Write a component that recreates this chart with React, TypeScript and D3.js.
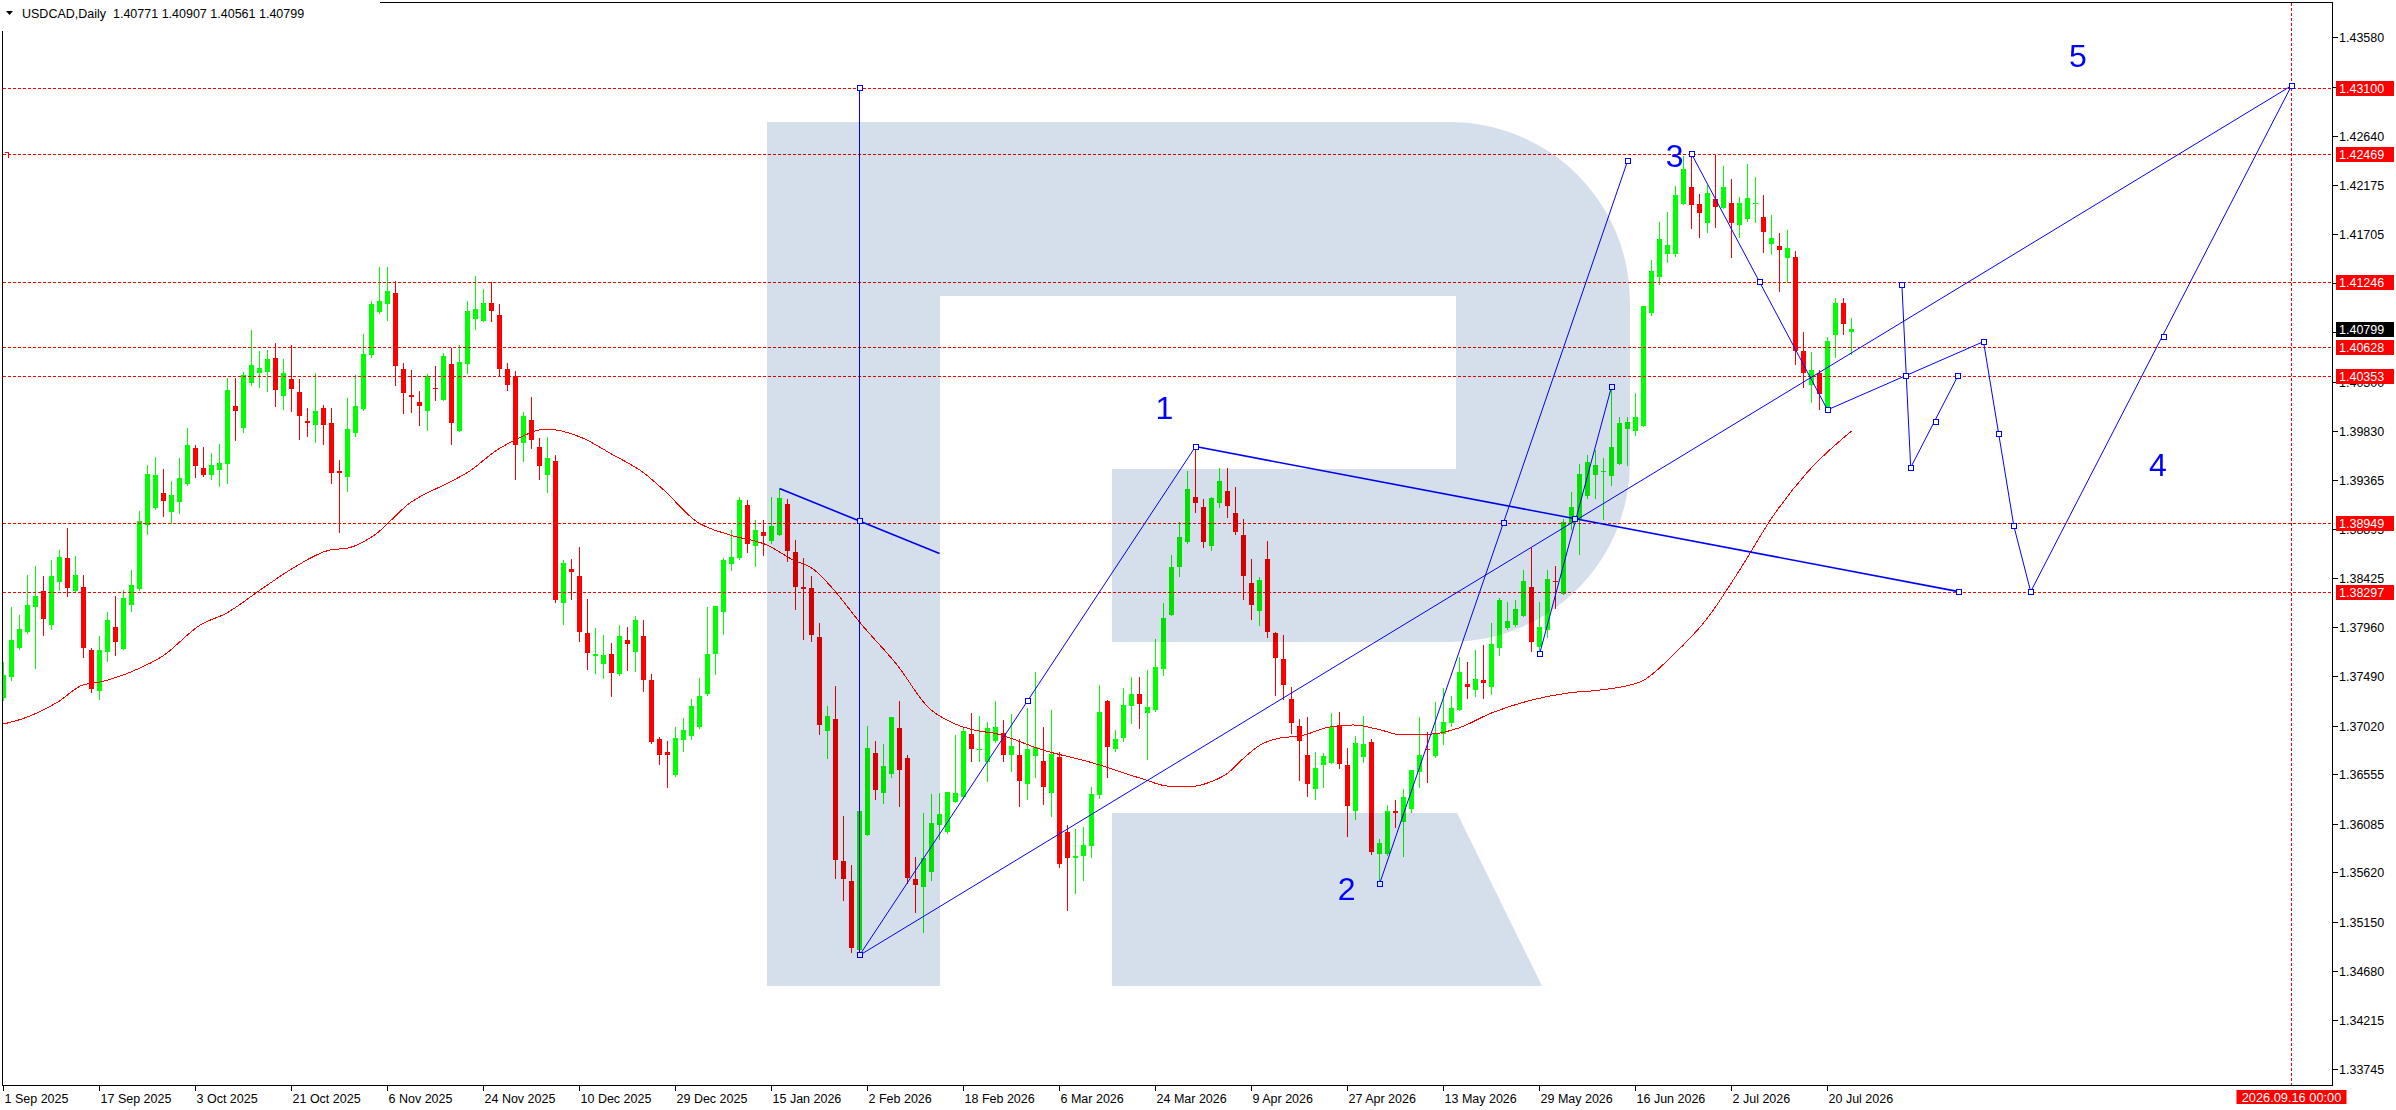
import { useEffect, useRef } from 'react';
import * as d3 from 'd3';

const WIDTH = 2396;
const HEIGHT = 1110;

const title = 'USDCAD,Daily  1.40771 1.40907 1.40561 1.40799';

// daily candles from 1 Sep 2025, one entry per bar
const opens = [
  1.3728, 1.3748, 1.3776, 1.3791, 1.3815, 1.3830, 1.3798, 1.3839, 1.3862, 1.3830,
  1.3834, 1.3774, 1.3735, 1.3772, 1.3796, 1.3775, 1.3817, 1.3832, 1.3893, 1.3909,
  1.3924, 1.3906, 1.3915, 1.3932, 1.3967, 1.3948, 1.3941, 1.3946, 1.3951, 1.4007,
  1.3986, 1.4029, 1.4038, 1.4039, 1.4052, 1.4016, 1.4032, 1.4020, 1.3992, 1.3989,
  1.4005, 1.3990, 1.3945, 1.3939, 1.3981, 1.4004, 1.4055, 1.4096, 1.4104, 1.4114,
  1.4042, 1.4017, 1.4010, 1.4002, 1.4024, 1.4012, 1.4047, 1.3983, 1.4047, 1.4090,
  1.4088, 1.4105, 1.4093, 1.4042, 1.4035, 1.3971, 1.3993, 1.3968, 1.3941, 1.3954,
  1.3819, 1.3851, 1.3845, 1.3790, 1.3768, 1.3761, 1.3770, 1.3751, 1.3784, 1.3772,
  1.3787, 1.3745, 1.3689, 1.3677, 1.3655, 1.3688, 1.3692, 1.3701, 1.3732, 1.3770,
  1.3810, 1.3856, 1.3862, 1.3912, 1.3873, 1.3887, 1.3878, 1.3884, 1.3913, 1.3867,
  1.3834, 1.3833, 1.3786, 1.3697, 1.3708, 1.3573, 1.3554, 1.3488, 1.3598, 1.3676,
  1.3638, 1.3656, 1.3700, 1.3671, 1.3556, 1.3548, 1.3562, 1.3607, 1.3601, 1.3629,
  1.3634, 1.3694, 1.3679, 1.3667, 1.3687, 1.3695, 1.3674, 1.3674, 1.3646, 1.3673,
  1.3668, 1.3638, 1.3672, 1.3601, 1.3576, 1.3578, 1.3587, 1.3636, 1.3725, 1.3680,
  1.3690, 1.3721, 1.3732, 1.3714, 1.3717, 1.3756, 1.3807, 1.3853, 1.3877, 1.3920,
  1.3910, 1.3873, 1.3914, 1.3926, 1.3905, 1.3884, 1.3838, 1.3811, 1.3861, 1.3790,
  1.3765, 1.3727, 1.3702, 1.3674, 1.3642, 1.3664, 1.3666, 1.3703, 1.3664, 1.3621,
  1.3672, 1.3686, 1.3580, 1.3580, 1.3621, 1.3610, 1.3622, 1.3658, 1.3680, 1.3673,
  1.3694, 1.3704, 1.3717, 1.3742, 1.3736, 1.3745, 1.3739, 1.3776, 1.3795, 1.3798,
  1.3806, 1.3834, 1.3777, 1.3793, 1.3840, 1.3827, 1.3895, 1.3899, 1.3921, 1.3941,
  1.3944, 1.3940, 1.3951, 1.3985, 1.3983, 1.3988, 1.4095, 1.4130, 1.4152, 1.4152,
  1.4199, 1.4215, 1.4199, 1.4181, 1.4204, 1.4195, 1.4200, 1.4179, 1.4185, 1.4199,
  1.4187, 1.4161, 1.4159, 1.4148, 1.4149, 1.4059, 1.4027, 1.4038, 1.4004, 1.4074,
  1.4105, 1.40771,
];
const highs = [
  1.3763, 1.3815, 1.3807, 1.3846, 1.3854, 1.3845, 1.3860, 1.3869, 1.3890, 1.3864,
  1.3846, 1.3776, 1.3787, 1.3810, 1.3826, 1.3831, 1.3850, 1.3907, 1.3950, 1.3958,
  1.3947, 1.3935, 1.3957, 1.3986, 1.3969, 1.3968, 1.3962, 1.3970, 1.4033, 1.4033,
  1.4039, 1.4079, 1.4059, 1.4060, 1.4067, 1.4051, 1.4065, 1.4032, 1.4005, 1.4038,
  1.4008, 1.4005, 1.3955, 1.4014, 1.4036, 1.4075, 1.4107, 1.4139, 1.4139, 1.4126,
  1.4048, 1.4041, 1.4021, 1.4037, 1.4045, 1.4057, 1.4062, 1.4065, 1.4107, 1.4131,
  1.4118, 1.4125, 1.4104, 1.4048, 1.4040, 1.4001, 1.4015, 1.3976, 1.3977, 1.3960,
  1.3860, 1.3861, 1.3872, 1.3823, 1.3795, 1.3788, 1.3781, 1.3798, 1.3796, 1.3806,
  1.3803, 1.3751, 1.3691, 1.3687, 1.3701, 1.3709, 1.3727, 1.3747, 1.3815, 1.3816,
  1.3862, 1.3888, 1.3920, 1.3917, 1.3898, 1.3898, 1.3920, 1.3928, 1.3918, 1.3879,
  1.3862, 1.3845, 1.3800, 1.3721, 1.3740, 1.3616, 1.3569, 1.3621, 1.3702, 1.3687,
  1.3684, 1.3710, 1.3725, 1.3674, 1.3577, 1.3619, 1.3637, 1.3638, 1.3639, 1.3693,
  1.3701, 1.3714, 1.3711, 1.3705, 1.3725, 1.3707, 1.3713, 1.3689, 1.3719, 1.3753,
  1.3701, 1.3717, 1.3677, 1.3607, 1.3603, 1.3605, 1.3643, 1.3741, 1.3726, 1.3698,
  1.3738, 1.3748, 1.3748, 1.3755, 1.3785, 1.3819, 1.3865, 1.3896, 1.3945, 1.3968,
  1.3918, 1.3920, 1.3948, 1.3948, 1.3929, 1.3899, 1.3861, 1.3844, 1.3878, 1.3791,
  1.3788, 1.3739, 1.3708, 1.3710, 1.3677, 1.3676, 1.3714, 1.3715, 1.3681, 1.3692,
  1.3711, 1.3689, 1.3594, 1.3626, 1.3631, 1.3642, 1.3660, 1.3710, 1.3696, 1.3724,
  1.3738, 1.3730, 1.3767, 1.3763, 1.3774, 1.3779, 1.3800, 1.3824, 1.3820, 1.3822,
  1.3850, 1.3871, 1.3820, 1.3850, 1.3854, 1.3899, 1.3925, 1.3951, 1.3960, 1.3965,
  1.3957, 1.4025, 1.3996, 1.3996, 1.4019, 1.4102, 1.4146, 1.4182, 1.4192, 1.4216,
  1.4245, 1.4247, 1.4209, 1.4217, 1.4247, 1.4235, 1.4223, 1.4206, 1.4237, 1.4225,
  1.4208, 1.4189, 1.4172, 1.4174, 1.4154, 1.4077, 1.4058, 1.4041, 1.4072, 1.4110,
  1.4110, 1.40907,
];
const lows = [
  1.3726, 1.3745, 1.3775, 1.3790, 1.3757, 1.3788, 1.3794, 1.3831, 1.3826, 1.3829,
  1.3767, 1.3734, 1.3727, 1.3764, 1.3769, 1.3775, 1.3811, 1.3831, 1.3885, 1.3908,
  1.3902, 1.3895, 1.3905, 1.3931, 1.3939, 1.3940, 1.3937, 1.3930, 1.3933, 1.3974,
  1.3982, 1.4027, 1.4025, 1.4021, 1.4007, 1.4004, 1.4002, 1.3975, 1.3978, 1.3972,
  1.3970, 1.3933, 1.3887, 1.3926, 1.3978, 1.4003, 1.4053, 1.4095, 1.4089, 1.4027,
  1.4000, 1.4001, 1.3989, 1.3984, 1.4012, 1.4012, 1.3970, 1.3983, 1.4038, 1.4080,
  1.4088, 1.4088, 1.4035, 1.4022, 1.3937, 1.3954, 1.3967, 1.3937, 1.3925, 1.3820,
  1.3799, 1.3823, 1.3783, 1.3756, 1.3752, 1.3747, 1.3730, 1.3750, 1.3755, 1.3754,
  1.3735, 1.3685, 1.3665, 1.3643, 1.3654, 1.3678, 1.3689, 1.3700, 1.3731, 1.3751,
  1.3789, 1.3850, 1.3861, 1.3867, 1.3854, 1.3865, 1.3876, 1.3884, 1.3859, 1.3813,
  1.3785, 1.3783, 1.3694, 1.3671, 1.3557, 1.3536, 1.3486, 1.3483, 1.3598, 1.3632,
  1.3628, 1.3653, 1.3625, 1.3552, 1.3524, 1.3505, 1.3555, 1.3594, 1.3600, 1.3629,
  1.3633, 1.3668, 1.3668, 1.3649, 1.3686, 1.3668, 1.3659, 1.3625, 1.3632, 1.3653,
  1.3627, 1.3616, 1.3567, 1.3526, 1.3542, 1.3555, 1.3577, 1.3633, 1.3653, 1.3678,
  1.3687, 1.3704, 1.3700, 1.3670, 1.3716, 1.3750, 1.3807, 1.3845, 1.3876, 1.3906,
  1.3872, 1.3869, 1.3910, 1.3901, 1.3885, 1.3823, 1.3804, 1.3798, 1.3786, 1.3731,
  1.3727, 1.3695, 1.3650, 1.3635, 1.3632, 1.3643, 1.3666, 1.3662, 1.3597, 1.3613,
  1.3667, 1.3580, 1.3551, 1.3579, 1.3605, 1.3578, 1.3620, 1.3643, 1.3648, 1.3672,
  1.3684, 1.3702, 1.3717, 1.3728, 1.3730, 1.3728, 1.3732, 1.3769, 1.3794, 1.3797,
  1.3806, 1.3773, 1.3770, 1.3786, 1.3814, 1.3827, 1.3889, 1.3866, 1.3919, 1.3919,
  1.3899, 1.3931, 1.3951, 1.3950, 1.3979, 1.3988, 1.4093, 1.4123, 1.4144, 1.4150,
  1.4199, 1.4176, 1.4168, 1.4173, 1.4177, 1.4195, 1.4149, 1.4168, 1.4183, 1.4182,
  1.4153, 1.4152, 1.4116, 1.4125, 1.4047, 1.4025, 1.4010, 1.4004, 1.4003, 1.4053,
  1.4075, 1.40561,
];
const closes = [
  1.3750, 1.3784, 1.3794, 1.3817, 1.3826, 1.3804, 1.3845, 1.3863, 1.3833, 1.3846,
  1.3776, 1.3737, 1.3774, 1.3803, 1.3782, 1.3824, 1.3836, 1.3897, 1.3942, 1.3941,
  1.3916, 1.3922, 1.3938, 1.3969, 1.3949, 1.3941, 1.3950, 1.3952, 1.4022, 1.4002,
  1.4036, 1.4046, 1.4043, 1.4051, 1.4022, 1.4038, 1.4023, 1.3997, 1.3990, 1.4002,
  1.3989, 1.3943, 1.3943, 1.3985, 1.4007, 1.4056, 1.4104, 1.4107, 1.4116, 1.4045,
  1.4019, 1.4015, 1.4007, 1.4035, 1.4023, 1.4054, 1.3990, 1.4049, 1.4097, 1.4099,
  1.4105, 1.4097, 1.4042, 1.4027, 1.3969, 1.3997, 1.3974, 1.3949, 1.3957, 1.3822,
  1.3857, 1.3848, 1.3791, 1.3771, 1.3770, 1.3769, 1.3752, 1.3787, 1.3780, 1.3803,
  1.3745, 1.3686, 1.3674, 1.3674, 1.3690, 1.3698, 1.3721, 1.3730, 1.3770, 1.3816,
  1.3860, 1.3863, 1.3917, 1.3875, 1.3888, 1.3883, 1.3892, 1.3919, 1.3868, 1.3834,
  1.3832, 1.3788, 1.3703, 1.3711, 1.3574, 1.3556, 1.3490, 1.3621, 1.3681, 1.3641,
  1.3663, 1.3710, 1.3660, 1.3557, 1.3550, 1.3576, 1.3609, 1.3618, 1.3639, 1.3638,
  1.3697, 1.3680, 1.3680, 1.3700, 1.3701, 1.3674, 1.3683, 1.3649, 1.3680, 1.3682,
  1.3643, 1.3675, 1.3570, 1.3576, 1.3578, 1.3588, 1.3637, 1.3715, 1.3682, 1.3689,
  1.3722, 1.3732, 1.3723, 1.3720, 1.3758, 1.3805, 1.3853, 1.3882, 1.3928, 1.3914,
  1.3877, 1.3919, 1.3935, 1.3911, 1.3887, 1.3845, 1.3817, 1.3841, 1.3791, 1.3766,
  1.3741, 1.3704, 1.3687, 1.3646, 1.3662, 1.3673, 1.3701, 1.3665, 1.3625, 1.3685,
  1.3684, 1.3581, 1.3590, 1.3621, 1.3619, 1.3634, 1.3660, 1.3674, 1.3679, 1.3695,
  1.3705, 1.3719, 1.3753, 1.3739, 1.3746, 1.3743, 1.3780, 1.3822, 1.3802, 1.3813,
  1.3840, 1.3782, 1.3796, 1.3842, 1.3839, 1.3896, 1.3910, 1.3942, 1.3953, 1.3950,
  1.3945, 1.3968, 1.3990, 1.3991, 1.3996, 1.4102, 1.4135, 1.4166, 1.4160, 1.4208,
  1.4233, 1.4198, 1.4191, 1.4210, 1.4196, 1.4215, 1.4181, 1.4200, 1.4205, 1.4200,
  1.4173, 1.4167, 1.4155, 1.4157, 1.4059, 1.4038, 1.4041, 1.4018, 1.4069, 1.4105,
  1.4085, 1.40799,
];

// moving average at these bars
const maBars = [
  0, 2.3, 6.8, 9.9, 12.1, 16.2, 19.9, 24.6, 27.9, 32.1, 36.2, 40.8, 43.1, 46.2,
  50.8, 55.8, 57.9, 61.9, 63.7, 67.9, 72.1, 76.2, 79.9, 82.4, 86.7, 90.8, 95.4,
  98.7, 101.2, 103.7, 107.1, 111.7, 115.8, 117.9, 121.9, 123.7, 129.9, 136.2,
  142.4, 145.4, 147.9, 151.2, 152.9, 154.9, 157.1, 159.6, 162.1, 165.8, 168.7,
  171.7, 174.9, 178.7, 181.9, 186, 191.6, 195.6, 199.6, 204.6, 208.7, 212.9,
  217.1, 221.2, 225.4, 231,
];
const maValues = [
  1.37035, 1.37083, 1.37245, 1.37407, 1.37436, 1.37540, 1.37683, 1.37979, 1.38093,
  1.38313, 1.38522, 1.38694, 1.38713, 1.38827, 1.39142, 1.39342, 1.39428, 1.39657,
  1.39733, 1.39847, 1.39771, 1.39600, 1.39437, 1.39275, 1.38961, 1.38837, 1.38742,
  1.38599, 1.38513, 1.38322, 1.37998, 1.37598, 1.37178, 1.37073, 1.36968, 1.36949,
  1.36787, 1.36663, 1.36511, 1.36444, 1.36435, 1.36492, 1.36559, 1.36701, 1.36835,
  1.36902, 1.36921, 1.37007, 1.37026, 1.36987, 1.36930, 1.36940, 1.36997, 1.37140,
  1.37274, 1.37331, 1.37359, 1.37436, 1.37693, 1.38036, 1.38513, 1.39018, 1.39428,
  1.39828,
];

const priceTicks = [
  1.43580, 1.43110, 1.42640, 1.42175, 1.41705, 1.41240, 1.40770, 1.40300, 1.39830,
  1.39365, 1.38895, 1.38425, 1.37960, 1.37490, 1.37020, 1.36555, 1.36085, 1.35620,
  1.35150, 1.34680, 1.34215, 1.33745,
];

const dateLabels = [
  '1 Sep 2025', '17 Sep 2025', '3 Oct 2025', '21 Oct 2025', '6 Nov 2025',
  '24 Nov 2025', '10 Dec 2025', '29 Dec 2025', '15 Jan 2026', '2 Feb 2026',
  '18 Feb 2026', '6 Mar 2026', '24 Mar 2026', '9 Apr 2026', '27 Apr 2026',
  '13 May 2026', '29 May 2026', '16 Jun 2026', '2 Jul 2026', '20 Jul 2026',
];
const barsPerLabel = 12;

const levels = [1.43100, 1.42469, 1.41246, 1.40628, 1.40353, 1.38949, 1.38297];
const lastPrice = 1.40799;
const timeLineBar = 286;
const timeLineLabel = '2026.09.16 00:00';

// wave drawing: polylines as [bar, price]
const wavePaths: [number, number][][] = [
  [[107, 1.4310], [107, 1.3483]],
  [[97, 1.3928], [117, 1.3866]],
  [[107, 1.3483], [149, 1.3968]],
  [[149, 1.3968], [244.4, 1.38297]],
  [[107, 1.3483], [286, 1.4312]],
  [[172, 1.3551], [203, 1.4240]],
  [[192, 1.3770], [201, 1.4025]],
  [[211, 1.4247], [228, 1.4003]],
  [[228, 1.4003], [247.5, 1.4068], [251.3, 1.3892], [253.4, 1.38297], [286, 1.4312]],
  [[237.3, 1.4122], [238.4, 1.3948], [244.3, 1.40353]],
];
const waveWidths = [1, 1.6, 1, 1.6, 1, 1, 1, 1, 1, 1];
const waveMarkers: [number, number][] = [
  [107, 1.4310], [107, 1.3897], [107, 1.3483], [128, 1.3725], [149, 1.3968],
  [244.4, 1.38297], [286, 1.4312], [172, 1.3551], [187.5, 1.38949], [203, 1.4240],
  [196.4, 1.3899], [192, 1.3770], [201, 1.4025], [211, 1.4247], [219.5, 1.41246],
  [228, 1.4003], [247.5, 1.4068], [249.4, 1.3980], [251.3, 1.3892], [253.4, 1.38297],
  [270, 1.4072], [237.3, 1.4122], [237.75, 1.40353], [238.4, 1.3948], [241.5, 1.3991],
  [244.3, 1.40353],
];
const waveLabels = ['1', '2', '3', '4', '5'];
const waveLabelBars = [145.1, 167.9, 208.9, 269.3, 259.3];
const waveLabelPrices = [1.4005, 1.3547, 1.4245, 1.3951, 1.4341];

const BULL = '#00ff00';
const BEAR = '#ff0000';
const WAVE = '#0000ff';
const FONT = "'Liberation Sans', Arial, sans-serif";

export default function App() {
  const svgRef = useRef<SVGSVGElement>(null);

  useEffect(() => {
    const svg = d3.select(svgRef.current);
    svg.selectAll('*').remove();

    const left = 2.5, right = 2332.5, top = 2.5, bottom = 1085.5;

    const x = d3.scaleLinear().domain([0, 1]).range([3.5, 11.5]);
    const y = d3.scaleLinear().domain([1.43937, 1.33584]).range([0, 1086]);
    const py = (p: number) => Math.round(y(p)) + 0.5;

    svg.append('rect').attr('width', WIDTH).attr('height', HEIGHT).attr('fill', '#fff');

    svg.append('defs').append('clipPath').attr('id', 'plot-clip')
      .append('rect').attr('x', 3).attr('y', 3).attr('width', right - 3).attr('height', bottom - 3);

    const plot = svg.append('g').attr('clip-path', 'url(#plot-clip)');

    // candles
    const bars = d3.range(opens.length);
    const color = (i: number) => (closes[i] >= opens[i] ? BULL : BEAR);
    const cg = plot.append('g').attr('shape-rendering', 'crispEdges');
    cg.selectAll('line').data(bars).join('line')
      .attr('x1', i => x(i)).attr('x2', i => x(i))
      .attr('y1', i => Math.round(y(highs[i])))
      .attr('y2', i => Math.round(y(lows[i])) + 1)
      .attr('stroke', color);
    cg.selectAll('rect').data(bars).join('rect')
      .attr('x', i => x(i) - 2.5).attr('width', 5)
      .attr('y', i => Math.round(y(Math.max(opens[i], closes[i]))))
      .attr('height', i => Math.max(1, Math.round(y(Math.min(opens[i], closes[i]))) - Math.round(y(Math.max(opens[i], closes[i])))))
      .attr('fill', color);

    // moving average
    const maLine = d3.line<number>()
      .x(k => x(maBars[k]))
      .y(k => y(maValues[k]))
      .curve(d3.curveMonotoneX);
    plot.append('path').attr('d', maLine(d3.range(maBars.length)))
      .attr('fill', 'none').attr('stroke', '#ff0000').attr('stroke-width', 1)
      .attr('shape-rendering', 'crispEdges');

    // horizontal levels and time line
    plot.append('g').selectAll('line').data(levels).join('line')
      .attr('x1', left).attr('x2', right)
      .attr('y1', d => py(d)).attr('y2', d => py(d))
      .attr('stroke', '#ff0000').attr('stroke-dasharray', '3,2')
      .attr('shape-rendering', 'crispEdges');
    plot.append('line')
      .attr('x1', x(timeLineBar)).attr('x2', x(timeLineBar))
      .attr('y1', top).attr('y2', bottom)
      .attr('stroke', '#ff0000').attr('stroke-dasharray', '3,2')
      .attr('shape-rendering', 'crispEdges');
    // small end mark on the 1.42469 level
    const markY = py(levels[1]);
    plot.append('path')
      .attr('d', `M5,${markY - 2} H8 V${markY + 3}`)
      .attr('fill', 'none').attr('stroke', '#ff0000').attr('shape-rendering', 'crispEdges');

    // wave lines
    const wl = d3.line<[number, number]>().x(d => x(d[0])).y(d => y(d[1]));
    plot.append('g').selectAll('path').data(wavePaths).join('path')
      .attr('d', d => wl(d))
      .attr('fill', 'none').attr('stroke', WAVE)
      .attr('stroke-width', (_, k) => waveWidths[k]);
    plot.append('g').selectAll('rect').data(waveMarkers).join('rect')
      .attr('x', d => Math.round(x(d[0])) - 2.5)
      .attr('y', d => Math.round(y(d[1])) - 2.5)
      .attr('width', 5).attr('height', 5)
      .attr('fill', '#fff').attr('stroke', WAVE).attr('stroke-width', 1)
      .attr('shape-rendering', 'crispEdges');

    // watermark
    const logo = plot.append('g').style('mix-blend-mode', 'multiply').attr('fill', '#d5dfeb');
    logo.append('path').attr('d',
      'M767,122 L1450,122 A180,180 0 0 1 1630,302 L1630,462 A180,180 0 0 1 1450,642 ' +
      'L1112,642 L1112,469 L1456,469 L1456,296 L940,296 L940,986 L767,986 Z');
    logo.append('path').attr('d', 'M1112,813 L1457,813 L1542,986 L1112,986 Z');

    // wave numbers
    plot.append('g').selectAll('text').data(waveLabels).join('text')
      .attr('x', (_, k) => x(waveLabelBars[k]))
      .attr('y', (_, k) => y(waveLabelPrices[k]) + 11.5)
      .attr('text-anchor', 'middle')
      .attr('font-family', FONT).attr('font-size', 32)
      .attr('fill', WAVE)
      .text(d => d);

    // frame
    svg.append('rect')
      .attr('x', left).attr('y', top).attr('width', right - left).attr('height', bottom - top)
      .attr('fill', 'none').attr('stroke', '#000').attr('shape-rendering', 'crispEdges');
    svg.append('rect').attr('x', 0).attr('y', 0).attr('width', 380).attr('height', 31).attr('fill', '#fff');

    // price axis
    const pa = svg.append('g').attr('font-family', FONT).attr('font-size', 12.5);
    pa.selectAll('line').data(priceTicks).join('line')
      .attr('x1', right).attr('x2', right + 5)
      .attr('y1', d => py(d)).attr('y2', d => py(d))
      .attr('stroke', '#000').attr('shape-rendering', 'crispEdges');
    pa.selectAll('text').data(priceTicks).join('text')
      .attr('x', 2339).attr('y', d => py(d) + 4.5)
      .attr('fill', '#000')
      .text(d => d.toFixed(5));

    const tags = [...levels.map(v => ({ v, bg: '#ff0000' })), { v: lastPrice, bg: '#000000' }];
    const tg = pa.append('g');
    tg.selectAll('rect').data(tags).join('rect')
      .attr('x', 2336).attr('width', 58)
      .attr('y', d => py(d.v) - 7.5).attr('height', 15)
      .attr('fill', d => d.bg);
    tg.selectAll('text').data(tags).join('text')
      .attr('x', 2339).attr('y', d => py(d.v) + 4.5)
      .attr('fill', '#fff')
      .text(d => d.v.toFixed(5));

    // time axis
    const ta = svg.append('g').attr('font-family', FONT).attr('font-size', 12.5);
    ta.selectAll('line').data(dateLabels).join('line')
      .attr('x1', (_, k) => x(k * barsPerLabel)).attr('x2', (_, k) => x(k * barsPerLabel))
      .attr('y1', bottom).attr('y2', bottom + 5)
      .attr('stroke', '#000').attr('shape-rendering', 'crispEdges');
    ta.selectAll('text').data(dateLabels).join('text')
      .attr('x', (_, k) => x(k * barsPerLabel) + 1)
      .attr('y', 1102.5)
      .attr('fill', '#000')
      .text(d => d);

    const tx = x(timeLineBar);
    ta.append('rect').attr('x', tx - 55).attr('y', 1090).attr('width', 110).attr('height', 14)
      .attr('fill', '#ff0000');
    ta.append('text').attr('x', tx).attr('y', 1101.5).attr('text-anchor', 'middle')
      .attr('font-size', 12.8).attr('fill', '#fff').text(timeLineLabel);

    // title
    svg.append('path').attr('d', 'M6,11 L13,11 L9.5,15 Z').attr('fill', '#000');
    svg.append('text').attr('x', 22).attr('y', 17.5)
      .attr('font-family', FONT).attr('font-size', 12.5).attr('fill', '#000')
      .attr('xml:space', 'preserve').style('white-space', 'pre')
      .text(title);
  }, []);

  return (
    <svg
      ref={svgRef}
      width={WIDTH}
      height={HEIGHT}
      style={{ position: 'absolute', left: 0, top: 0, display: 'block' }}
    />
  );
}
